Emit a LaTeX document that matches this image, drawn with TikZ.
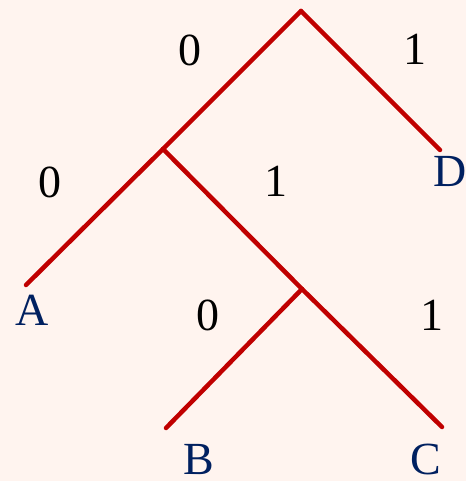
\documentclass[tikz,border=0pt]{standalone}
\usepackage{fontspec}
\setmainfont{Liberation Serif}
\usepackage{tikz}

\definecolor{bgpink}{HTML}{FFF4EF}
\definecolor{branchred}{HTML}{C00000}
\definecolor{leafblue}{HTML}{002060}

\begin{document}
\begin{tikzpicture}[x=1pt, y=-1pt,
  branch/.style={line width=4.5pt, branchred, line cap=round},
  bit/.style={anchor=base, inner sep=0pt, font=\fontsize{46}{50}\selectfont},
  leaf/.style={bit, text=leafblue}]
  % Background
  \fill[bgpink] (0,0) rectangle (466,481);
  \useasboundingbox (0,0) rectangle (466,481);

  % Tree joints
  \coordinate (root) at (301,11);
  \coordinate (n1) at (163,149);
  \coordinate (n2) at (302,289);
  \coordinate (endA) at (26,285);
  \coordinate (endB) at (166,428);
  \coordinate (endC) at (442,427);
  \coordinate (endD) at (440,150);

  % Branches
  \draw[branch] (root) -- (n1);
  \draw[branch] (n1) -- (endA);
  \draw[branch] (root) -- (endD);
  \draw[branch] (n1) -- (n2);
  \draw[branch] (n2) -- (endB);
  \draw[branch] (n2) -- (endC);

  % Bits on the branches
  \node[bit] (b0) at (190,66) {0};
  \node[bit] (b1) at (415,65) {1};
  \node[bit] (b10) at (50,197) {0};
  \node[bit] (b11) at (276,196) {1};
  \node[bit] (b110) at (208,330) {0};
  \node[bit] (b111) at (432,330) {1};

  % Leaves
  \node[leaf] (A) at (32,325) {A};
  \node[leaf] (B) at (199,474) {B};
  \node[leaf] (C) at (426,474) {C};
  \node[leaf] (D) at (450,186) {D};
\end{tikzpicture}
\end{document}
